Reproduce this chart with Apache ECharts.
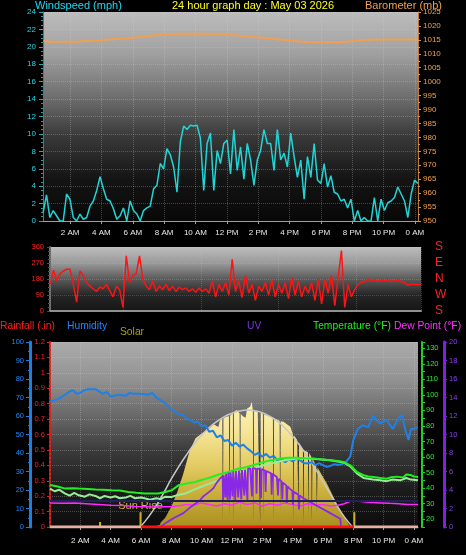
<!DOCTYPE html>
<html><head><meta charset="utf-8">
<script src="https://cdn.jsdelivr.net/npm/echarts@6/dist/echarts.min.js"></script>
<style>html,body{margin:0;padding:0;background:#000;}#c{width:466px;height:555px;}</style>
</head><body><div id="c"></div>
<script>
// ---------- tick labels ----------
const hourTickValues = [2,4,6,8,10,12,14,16,18,20,22,24];
const hourTickLabels = ['2 AM','4 AM','6 AM','8 AM','10 AM','12 PM','2 PM','4 PM','6 PM','8 PM','10 PM','0 AM'];
const dirLetterValues = [0,90,180,270,360];
const dirLetterLabels = ['S','W','N','E','S'];

// ---------- panel 1 & 2 samples (every ~12.8 min from 00:17) ----------
const sampleStartHour = 0.28;
const sampleStepHour = 0.2135;
const windSpeed = [1.0,3.0,0.4,1.2,0.6,0,0,3.1,2.5,0.4,0,0.8,0.2,0.4,1.7,2.3,3.5,5.1,3.7,2.5,2.3,1.4,0.2,0.6,1.5,0,2.3,1.2,0.8,0,1.2,1.5,1.7,3.7,4.1,6.6,6.0,8.3,7.6,6.2,3.3,9.1,10.9,10.5,11.0,10.9,11.0,9.5,3.5,8.9,10.1,3.5,8.1,6.6,8.9,9.3,5.4,10.5,5.8,8.5,4.8,8.9,7.0,4.1,7.0,8.1,10.5,8.9,8.9,5.8,10.5,7.0,7.8,6.2,10.1,7.4,5.0,7.0,2.5,7.4,5.0,8.9,4.7,4.3,6.6,3.9,5.2,3.3,3.1,2.3,2.5,1.5,2.5,0,1.2,0,0.4,0,0,2.7,0,2.5,1.2,2.1,2.3,2.7,3.9,3.1,2.3,0.4,3.1,4.7,4.3];
const windDir = [150,230,170,210,225,235,235,150,50,225,200,160,140,125,110,135,125,150,115,80,140,120,20,310,160,200,210,310,180,140,120,170,110,140,120,150,115,140,110,135,120,130,110,125,105,130,110,125,100,170,80,150,110,160,90,290,110,170,75,200,100,150,60,140,110,160,90,175,80,150,100,160,70,190,90,170,80,140,100,160,60,180,40,180,100,200,30,190,340,20,150,80,120,150,160,165,180,170,175,165,175,170,175,165,170,175,165,160,145,150,150,148,150];
const baroHours = [0.3,1,2,3,4,5,6,7,8,9,10,11,12,13,14,15,16,17,18,19,20,21,22,23,24.2];
const baroValues = [1014.6,1014.3,1014.3,1014.6,1014.9,1015.3,1015.8,1016.4,1017.0,1017.2,1017.2,1017.2,1017.0,1016.4,1015.9,1015.4,1014.8,1014.3,1014.1,1014.1,1014.5,1015.0,1015.1,1015.1,1015.1];

// ---------- panel 3 ----------
const humHours = [0,0.5,1,1.25,1.5,1.75,2,2.25,2.5,3,3.5,3.75,4,4.5,5,5.25,5.5,6,6.5,6.75,7,7.5,8,8.25,8.5,8.75,9,9.25,9.5,9.75,10,10.25,10.5,10.75,11,11.25,11.5,11.75,12,12.25,12.5,12.75,13,13.25,13.5,13.75,14,14.25,14.5,14.75,15,15.25,15.5,15.75,16,16.25,16.5,16.75,17,17.25,17.5,17.75,18,18.25,18.5,18.75,19,19.25,19.5,19.8,20,20.3,20.6,21,21.3,21.5,21.8,22.2,22.6,23,23.2,23.45,23.65,23.8,24,24.25];
const humValues = [68,69,71.5,73,74,72,72.5,74,74.5,74.5,72,73,70.5,71.5,71,72.5,72,72,71.5,72.5,70,67.5,63.5,62.5,60.5,61,58.5,58,56.5,57,54.5,55,51.5,52,48.5,49.5,46.5,47,44,45.5,43.5,44.5,42.5,41,39,40,38,39.5,37.5,38.5,36,37,35,36.5,35.5,37,36,34.5,34.5,35,33.5,34.5,33.5,32.5,33,34,33.5,34,35,38,47,53,55,54,60.5,58,56,58,53,59,60.5,52,47,53,53,54];
const tempHours = [0,0.5,1,1.5,1.9,2.5,3,3.5,4.07,4.6,5.17,5.7,6.27,6.7,7.15,7.6,8.03,8.47,9,9.57,10.1,10.67,11.2,11.77,12.4,12.98,13.5,14.08,14.6,15.18,15.7,16.28,16.8,17.38,17.9,18.48,19,19.36,19.8,20.24,20.68,21,21.34,21.8,22.22,22.5,22.88,23.3,23.5,23.76,24,24.27];
const tempValues = [42,41,39.7,40,39.7,39.5,39.2,39,38.6,38.5,37.5,37,36.5,36.5,36.5,37.5,38.6,41.8,43,44,45.5,47.2,49,50.4,52.5,53.6,55,56.8,58,59,59.5,59.6,59.3,59,58.5,57.9,57.5,56.8,54.7,50.4,48.3,47.5,47.2,46.5,46.1,47,47.4,46.8,48.8,48.5,47.5,47.2];
const feelHours = [0,0.3,0.6,1,1.3,1.6,1.9,2.3,2.6,3,3.3,3.6,4,4.3,4.6,5,5.3,5.6,6,6.3,6.6,7,7.3,7.6,8,8.4,8.9,9.5,10.2,11.1,11.8,12.5,13.2,14.08,14.8,15.5,16.28,17,17.7,18.48,19.36,19.8,20.24,20.68,21.3,21.8,22.2,22.6,23.1,23.5,23.8,24.27];
const feelValues = [39.7,38,39,36.5,35.2,37,35.4,34.5,36,35,33.5,35,34,34.8,33.5,34,35,33.5,34,33.3,32.5,33.5,33,34.5,34.3,35.5,36.5,39,41.8,45,48,50.4,52,54.7,56.5,57.9,59,59,58.6,57.9,56.5,54,49.5,46.5,45.5,45,44.5,45.5,45,46.5,45.5,45];
const dewHours = [0,0.8,1.6,2.4,3.2,4,4.8,5.6,6.3,7,7.6,8.03,8.5,9,9.5,10,10.5,11,11.5,12,12.5,13,13.5,14,14.5,15,15.5,16,16.5,17,17.5,18,18.5,19,19.4,19.8,20.2,20.7,21.2,21.8,22.4,23,23.6,24.27];
const dewValues = [30.5,30.2,30.5,30,29.5,29,28.8,28.2,28,27.8,28,28,28.6,29.5,29,30.5,29.5,28.5,30,29,31,29.5,30.5,28.5,30,29,30.5,29.5,28.5,30,29,29.5,28.5,29,30,31.5,31.8,31.2,30.8,30.5,30.2,30,29.5,29.5];
const uvHours = [7.26,7.7,8.2,8.8,9.3,9.9,10.1,10.5,10.78,11.0,11.2,11.38,11.42,11.46,11.53,11.57,11.61,11.68,11.72,11.76,11.83,11.87,11.91,12.0,12.04,12.08,12.18,12.22,12.26,12.38,12.42,12.46,12.58,12.62,12.66,12.78,12.82,12.86,12.98,13.02,13.06,13.2,13.28,13.32,13.36,13.58,13.62,13.66,13.88,13.92,13.96,14.08,14.18,14.22,14.26,14.58,14.62,14.66,14.96,15.0,15.04,15.08,15.28,15.32,15.36,15.58,15.62,15.66,15.84,15.98,16.02,16.06,16.38,16.42,16.46,16.72,17.6,18.48,19.14,19.2];
const uvValues = [0,0.5,1.0,1.5,2.2,2.9,3.3,3.8,4.2,4.8,5.2,5.5,2.9,5.6,5.7,3.2,5.75,5.8,2.8,5.85,5.9,3.0,5.9,5.95,3.3,6.0,6.05,2.9,6.05,6.1,3.2,6.1,6.15,3.0,6.15,6.2,3.4,6.2,6.25,2.9,6.3,6.35,6.35,3.3,6.35,6.3,3.6,6.3,6.25,3.1,6.25,6.2,6.1,3.8,6.05,5.8,3.5,5.75,5.4,5.3,3.4,5.2,4.9,3.0,4.8,4.5,2.6,4.4,4.1,3.9,2.4,3.8,3.5,1.9,3.4,3.1,2.3,1.5,0.9,0];
const solarHours = [5.95,6.5,7.0,7.25,7.3,7.6,8.0,8.4,8.8,9.2,9.6,10.0,10.4,10.8,11.1,11.2,11.36,11.4,11.44,11.6,11.8,11.84,11.88,12.0,12.06,12.1,12.14,12.3,12.5,12.54,12.58,12.7,12.9,13.0,13.2,13.3,13.38,13.42,13.46,13.7,13.82,13.86,13.9,14.04,14.08,14.12,14.5,14.7,14.74,14.78,15.0,15.14,15.18,15.22,15.4,15.85,16.02,16.06,16.1,16.3,16.35,16.39,16.43,16.68,16.72,16.76,17.01,17.05,17.09,17.15,17.23,17.27,17.31,17.56,17.6,17.64,18.25,18.9,19.3,19.6,19.8];
const solarValues = [0,3,6,12,25,50,110,190,290,410,480,505,525,555,540,575,585,40,588,595,600,60,602,612,618,20,622,632,615,80,612,600,590,640,650,677,630,30,628,622,620,20,620,612,60,610,596,590,40,588,580,575,90,572,569,542,500,30,495,470,465,100,455,420,20,414,405,60,402,398,380,30,370,330,80,322,236,128,70,29,0];
const clearSkyHours = [5.95,6.5,7,7.5,8,8.5,9,9.5,10,10.5,11,11.5,12,12.5,13,13.5,14,14.5,15,15.5,16,16.5,17,17.5,18,18.5,19,19.5,19.95];
const clearSkyValues = [0,55,115,185,260,328,390,447,497,538,570,597,615,627,632,628,618,598,572,535,490,438,378,315,245,178,105,45,0];
const rainHours = [0,3,5.9,6,9,12,15,18,20,20.1,22,24.27];
const rainValues = [0,0,0,0,0,0,0,0,0,0,0,0];
const sunRiseHour = 5.97, sunSetHour = 20.07;
const markerHours = [3.3,5.97,10.3,20.07];
const markerHeights = [27,80,40,80];
const freezingPoint = 32;

const pairs = (xs, ys) => xs.map((x, i) => [x, ys[i]]);
const sampleTimes = n => Array.from({length: n}, (_, i) => sampleStartHour + i * sampleStepHour);
const hourLabel = v => { const i = hourTickValues.findIndex(t => Math.abs(t - v) < 1e-6); return i < 0 ? '' : hourTickLabels[i]; };
const grad = stops => new echarts.graphic.LinearGradient(0, 0, 0, 1, stops.map((c, i) => ({offset: i / (stops.length - 1), color: c})));

const FONT = 'Liberation Sans';
const HFONT = '10.3px ' + FONT;
const dotted = {show: true, lineStyle: {type: 'dotted', color: 'rgba(215,215,215,0.28)', width: 1}};

const chart = echarts.init(document.getElementById('c'), null, {renderer: 'canvas'});
const option = {
  backgroundColor: '#000',
  animation: false,
  textStyle: {fontFamily: FONT},
  grid: [
    {left: 43, right: 48, top: 12, height: 209, show: true, borderWidth: 0,
     backgroundColor: grad(['#bcbcbc', '#a0a0a0', '#707070', '#383838', '#141414', '#080808'])},
    {left: 50, right: 45, top: 247, height: 64, show: true, borderWidth: 0,
     backgroundColor: grad(['#bdbdbd', '#9a9a9a', '#5a5a5a', '#262626', '#161616'])},
    {left: 50, right: 48, top: 342, height: 185, show: true, borderWidth: 0,
     backgroundColor: grad(['#ababab', '#939393', '#686868', '#383838', '#1c1c1c', '#0c0c0c'])}
  ],
  xAxis: [
    {gridIndex: 0, type: 'value', min: 0.27, max: 24.2,
     axisLine: {lineStyle: {color: '#a0a0a0', width: 1}},
     axisTick: {customValues: hourTickValues, length: 3, lineStyle: {color: '#a0a0a0'}},
     axisLabel: {customValues: hourTickValues, formatter: hourLabel, color: '#e8e8e8', fontSize: 8, margin: 8},
     splitLine: dotted},
    {gridIndex: 1, type: 'value', min: 0.27, max: 24.2,
     axisLine: {lineStyle: {color: '#909090', width: 2}},
     axisTick: {show: false}, axisLabel: {show: false},
     splitLine: {show: true, lineStyle: {type: 'dotted', color: 'rgba(215,215,215,0.22)'}}},
    {gridIndex: 2, type: 'value', min: 0, max: 24.27,
     axisLine: {lineStyle: {color: '#a0a0a0', width: 1}},
     axisTick: {customValues: hourTickValues, length: 3, lineStyle: {color: '#a0a0a0'}},
     axisLabel: {customValues: hourTickValues, formatter: hourLabel, color: '#e8e8e8', fontSize: 8, margin: 10},
     splitLine: dotted}
  ],
  yAxis: [
    {gridIndex: 0, type: 'value', position: 'left', min: 0, max: 24, interval: 2,
     axisLine: {show: true, lineStyle: {color: '#1c8c8c'}},
     axisTick: {show: true, length: 4, lineStyle: {color: '#20b0b0'}},
     minorTick: {show: true, splitNumber: 4, length: 2, lineStyle: {color: '#20a0a0'}},
     axisLabel: {color: '#20d8e8', fontSize: 8, margin: 7},
     splitLine: dotted},
    {gridIndex: 0, type: 'value', position: 'right', min: 950, max: 1025, interval: 5,
     axisLine: {show: true, lineStyle: {color: '#c07830'}},
     axisTick: {show: true, length: 3, lineStyle: {color: '#e09040'}},
     minorTick: {show: true, splitNumber: 2, length: 2, lineStyle: {color: '#e09040'}},
     axisLabel: {color: '#f0a050', fontSize: 8, margin: 5, formatter: v => String(v)},
     splitLine: {show: false}},
    {gridIndex: 1, type: 'value', position: 'left', min: 0, max: 360, interval: 90,
     axisLine: {show: true, lineStyle: {color: '#707070', width: 2}},
     axisTick: {show: true, length: 3, lineStyle: {color: '#c02020'}},
     minorTick: {show: true, splitNumber: 4, length: 2, lineStyle: {color: '#c02020'}},
     axisLabel: {color: '#ff2020', fontSize: 7.5, margin: 6},
     splitLine: {show: true, lineStyle: {type: 'dotted', color: 'rgba(215,215,215,0.22)'}}},
    {gridIndex: 1, type: 'value', position: 'right', min: 0, max: 360, interval: 90,
     axisLine: {show: false}, axisTick: {show: false}, splitLine: {show: false},
     axisLabel: {color: '#ff2020', fontSize: 12, margin: 14,
       formatter: v => dirLetterLabels[dirLetterValues.indexOf(v)] || ''}},
    {gridIndex: 2, type: 'value', position: 'left', offset: 0, min: 0, max: 1.2, interval: 0.1,
     axisLine: {show: true, lineStyle: {color: '#e02020', type: 'dotted', width: 2}},
     axisTick: {show: true, length: 3, lineStyle: {color: '#e02020'}},
     axisLabel: {color: '#ff2020', fontSize: 7.5, margin: 5, formatter: v => v === 0 ? '0' : String(Math.round(v * 10) / 10)},
     splitLine: dotted},
    {gridIndex: 2, type: 'value', position: 'left', offset: 20, min: 0, max: 100, interval: 10,
     axisLine: {show: true, lineStyle: {color: '#1e7fe0', width: 3}},
     axisTick: {show: true, length: 4, lineStyle: {color: '#1e7fe0'}},
     minorTick: {show: true, splitNumber: 2, length: 2, lineStyle: {color: '#1e7fe0'}},
     axisLabel: {color: '#2088ff', fontSize: 7.5, margin: 6},
     splitLine: {show: false}},
    {gridIndex: 2, type: 'value', position: 'right', offset: 4, min: 15, max: 134, interval: 5,
     axisLine: {show: true, lineStyle: {color: '#20d020', width: 2}},
     axisTick: {show: true, length: 3, lineStyle: {color: '#20d020'}},
     axisLabel: {color: '#20f020', fontSize: 7.5, margin: 4, formatter: v => v % 10 === 0 ? String(v) : ''},
     splitLine: {show: false}},
    {gridIndex: 2, type: 'value', position: 'right', offset: 26, min: 0, max: 20, interval: 2,
     axisLine: {show: true, lineStyle: {color: '#8020e0', width: 3}},
     axisTick: {show: true, length: 3, lineStyle: {color: '#8020e0'}},
     minorTick: {show: true, splitNumber: 2, length: 2, lineStyle: {color: '#8020e0'}},
     axisLabel: {color: '#8a40f0', fontSize: 7.5, margin: 5},
     splitLine: {show: false}},
    {gridIndex: 2, type: 'value', show: false, min: 0, max: 1000}
  ],
  visualMap: [{
    type: 'piecewise', show: false, seriesIndex: 12, dimension: 0,
    pieces: [{gte: sunRiseHour, lte: sunSetHour, color: '#ff1010'}],
    outOfRange: {color: '#e8b0a0'}
  }],
  series: [
    {name: 'Barometer', type: 'line', xAxisIndex: 0, yAxisIndex: 1, data: pairs(baroHours, baroValues),
     smooth: true, showSymbol: false, lineStyle: {color: '#f0a050', width: 2}},
    {name: 'Windspeed', type: 'line', xAxisIndex: 0, yAxisIndex: 0,
     data: pairs(sampleTimes(windSpeed.length), windSpeed),
     showSymbol: false, lineStyle: {color: '#22d4d4', width: 1.5}},
    {name: 'Wind Direction', type: 'line', xAxisIndex: 1, yAxisIndex: 2,
     data: pairs(sampleTimes(windDir.length), windDir),
     showSymbol: false, lineStyle: {color: '#ff1414', width: 1.5}},
    {name: 'Solar', type: 'line', xAxisIndex: 2, yAxisIndex: 8, data: pairs(solarHours, solarValues),
     showSymbol: false, lineStyle: {width: 0},
     areaStyle: {opacity: 1, color: grad(['#fff4b0', '#f4e496', '#e4cc64', '#c8ac38', '#a89020'])}},
    {name: 'Solar max', type: 'line', xAxisIndex: 2, yAxisIndex: 8, data: pairs(clearSkyHours, clearSkyValues),
     smooth: true, showSymbol: false, lineStyle: {color: '#c8c8c8', width: 1.5}},
    {name: 'Humidity', type: 'line', xAxisIndex: 2, yAxisIndex: 5, data: pairs(humHours, humValues),
     showSymbol: false, lineStyle: {color: '#1e80e8', width: 2}},
    {name: 'Feels', type: 'line', xAxisIndex: 2, yAxisIndex: 6, data: pairs(feelHours, feelValues),
     showSymbol: false, lineStyle: {color: '#98ec98', width: 2}},
    {name: 'Temperature', type: 'line', xAxisIndex: 2, yAxisIndex: 6, data: pairs(tempHours, tempValues),
     showSymbol: false, lineStyle: {color: '#20f020', width: 2}},
    {name: 'Freezing', type: 'line', xAxisIndex: 2, yAxisIndex: 6, data: [],
     markLine: {silent: true, symbol: 'none', label: {show: false},
       lineStyle: {color: '#22225a', width: 2, type: 'solid'}, data: [{yAxis: freezingPoint}]}},
    {name: 'Dew Point', type: 'line', xAxisIndex: 2, yAxisIndex: 6, data: pairs(dewHours, dewValues),
     showSymbol: false, lineStyle: {color: '#ff28ff', width: 1.5}},
    {name: 'UV', type: 'line', xAxisIndex: 2, yAxisIndex: 7, data: pairs(uvHours, uvValues),
     showSymbol: false, lineStyle: {color: '#8a28e8', width: 1.8}},
    {name: 'Sun markers', type: 'bar', xAxisIndex: 2, yAxisIndex: 8, barWidth: 2,
     data: markerHours.map((h, i) => ({value: [h, markerHeights[i]],
       label: h === sunRiseHour ? {show: true, position: 'top', formatter: 'Sun Rise', color: '#c8b830', fontSize: 11, distance: 1} : {show: false}})),
     itemStyle: {color: '#c8b422'}},
    {name: 'Rainfall', type: 'line', xAxisIndex: 2, yAxisIndex: 4, data: pairs(rainHours, rainValues),
     showSymbol: false, lineStyle: {width: 3}}
  ],
  graphic: [
    {type: 'text', left: 35, top: 0, style: {text: 'Windspeed (mph)', fill: '#22d8f0', font: '11px ' + FONT}},
    {type: 'text', left: 172, top: 0, style: {text: '24 hour graph day : May 03 2026', fill: '#ffff22', font: '11px ' + FONT}},
    {type: 'text', right: 24, top: 0, style: {text: 'Barometer (mb)', fill: '#f0a050', font: '11px ' + FONT}},
    {type: 'text', left: 0, top: 321, style: {text: 'Rainfall (.in)', fill: '#ff2020', font: HFONT}},
    {type: 'text', left: 67, top: 321, style: {text: 'Humidity', fill: '#2088ff', font: HFONT}},
    {type: 'text', left: 120, top: 327, style: {text: 'Solar', fill: '#a8a020', font: HFONT}},
    {type: 'text', left: 247, top: 321, style: {text: 'UV', fill: '#7a30f0', font: HFONT}},
    {type: 'text', left: 313, top: 321, style: {text: 'Temperature (°F)', fill: '#20f020', font: HFONT}},
    {type: 'text', left: 394, top: 321, style: {text: 'Dew Point (°F)', fill: '#ff30ff', font: HFONT}}
  ]
};
chart.setOption(option);
</script>
</body></html>
